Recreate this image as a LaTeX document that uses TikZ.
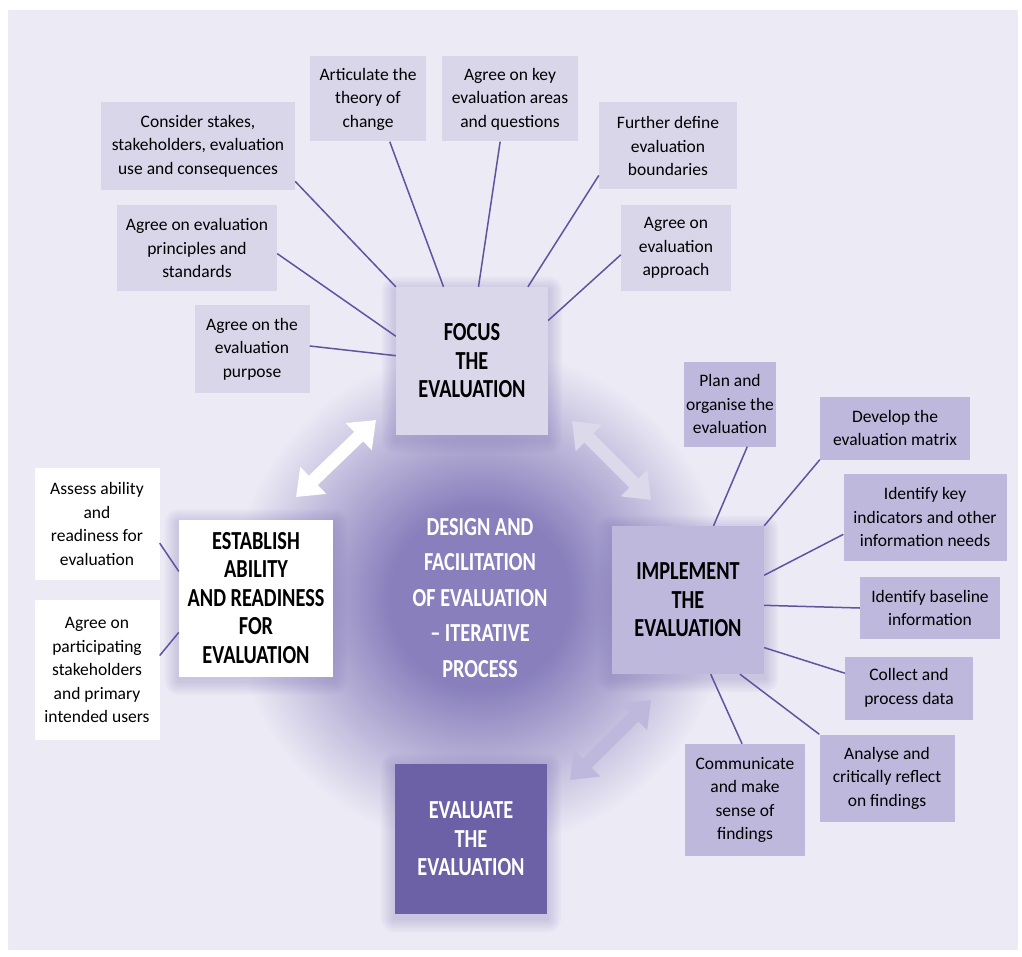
\documentclass[tikz,border=0pt]{standalone}
\usepackage{fontspec}
\setmainfont{Carlito}
\newfontfamily\capsfont[FakeStretch=0.78]{Carlito}
\usetikzlibrary{arrows.meta}
\usetikzlibrary{calc}
\usetikzlibrary{backgrounds}

\definecolor{bgc}{HTML}{ECEAF5}
\definecolor{topc}{HTML}{D9D6E9}
\definecolor{focusc}{HTML}{DAD7EA}
\definecolor{implc}{HTML}{BEB9DC}
\definecolor{evalc}{HTML}{6C61A6}
\definecolor{linec}{HTML}{5E54A0}
\definecolor{glowc}{HTML}{887FBC}
\definecolor{shadc}{HTML}{7A70B4}
\definecolor{pale}{HTML}{DCD9EB}

\pgfdeclareradialshading{glow}{\pgfpoint{0bp}{0bp}}{color(0bp)=(glowc); color(9bp)=(glowc); color(17bp)=(glowc!50!bgc); color(25bp)=(bgc); color(50bp)=(bgc)}

\tikzset{
  idea/.style={align=center, inner sep=0pt, font=\fontsize{17.5}{23.5}\selectfont},
  mainbox/.style={align=center, inner sep=0pt, minimum width=152pt, minimum height=148pt,
    font=\capsfont\bfseries\fontsize{26}{28.5}\selectfont},
  link/.style={draw=linec, line width=1.5pt},
  twoway/.style={line width=13pt, {Triangle[length=24pt,width=36pt]}-{Triangle[length=24pt,width=36pt]}},
}

\begin{document}
\begin{tikzpicture}[x=1pt,y=-1pt]
      \useasboundingbox (0,0) rectangle (1022,957);

      % main steps
      \node[mainbox, fill=focusc] (focus) at (472,361) {FOCUS\\THE\\EVALUATION};
      \node[mainbox, fill=white, minimum width=154pt, minimum height=157pt] (establish) at (256,598) {ESTABLISH\\ABILITY\\AND READINESS\\FOR\\EVALUATION};
      \node[mainbox, fill=implc] (implement) at (688,600) {IMPLEMENT\\THE\\EVALUATION};
      \node[mainbox, fill=evalc, text=white, minimum height=150pt] (evaluate) at (471,839) {EVALUATE\\THE\\EVALUATION};
      \node[align=center, text=white, font=\capsfont\bfseries\fontsize{26}{35.5}\selectfont] (design) at (480,598) {DESIGN AND\\FACILITATION\\OF EVALUATION\\– ITERATIVE\\PROCESS};

      % focus tasks
      \node[idea, fill=topc, minimum width=194pt, minimum height=88pt] (consider) at (198,146) {Consider stakes,\\stakeholders, evaluation\\use and consequences};
      \node[idea, fill=topc, minimum width=116pt, minimum height=85pt] (articulate) at (368,99) {Articulate the\\theory of\\change};
      \node[idea, fill=topc, minimum width=136pt, minimum height=85pt] (keyareas) at (510,99) {Agree on key\\evaluation areas\\and questions};
      \node[idea, fill=topc, minimum width=138pt, minimum height=87pt] (further) at (668,146) {Further define\\evaluation\\boundaries};
      \node[idea, fill=topc, minimum width=160pt, minimum height=86pt] (principles) at (197,248) {Agree on evaluation\\principles and\\standards};
      \node[idea, fill=topc, minimum width=110pt, minimum height=86pt] (approach) at (676,248) {Agree on\\evaluation\\approach};
      \node[idea, fill=topc, minimum width=115pt, minimum height=87pt] (purpose) at (252,349) {Agree on the\\evaluation\\purpose};

      % implement tasks
      \node[idea, fill=implc, minimum width=92pt, minimum height=85pt] (plan) at (730,404) {Plan and\\organise the\\evaluation};
      \node[idea, fill=implc, minimum width=150pt, minimum height=63pt] (matrix) at (895,428) {Develop the\\evaluation matrix};
      \node[idea, fill=implc, minimum width=163pt, minimum height=87pt] (indicators) at (925,517) {Identify key\\indicators and other\\information needs};
      \node[idea, fill=implc, minimum width=140pt, minimum height=62pt] (baseline) at (930,608) {Identify baseline\\information};
      \node[idea, fill=implc, minimum width=128pt, minimum height=63pt] (collect) at (909,688) {Collect and\\process data};
      \node[idea, fill=implc, minimum width=135pt, minimum height=87pt] (analyse) at (887,778) {Analyse and\\critically reflect\\on findings};
      \node[idea, fill=implc, minimum width=120pt, minimum height=112pt] (communicate) at (745,800) {Communicate\\and make\\sense of\\findings};

      % establish tasks
      \node[idea, fill=white, minimum width=125pt, minimum height=112pt] (assess) at (97,524) {Assess ability\\and\\readiness for\\evaluation};
      \node[idea, fill=white, minimum width=125pt, minimum height=140pt] (participants) at (97,670) {Agree on\\participating\\stakeholders\\and primary\\intended users};

      \path (consider.-20) edge[link] (focus.north west);
      \path (articulate.-63) edge[link] (focus.111);
      \path (keyareas.-103) edge[link] (focus.85);
      \path (further.203) edge[link] (focus.53);
      \path (approach.187) edge[link] (focus.28);
      \path (principles.-4) edge[link] (focus.162);
      \path (purpose.3) edge[link] (focus.176);

      \path (plan.-68) edge[link] (implement.71);
      \path (matrix.south west) edge[link] (implement.north east);
      \path (indicators.192) edge[link] (implement.18);
      \path (baseline.west) edge[link] (implement.-4);
      \path (collect.167) edge[link] (implement.-32);
      \path (analyse.north west) edge[link] (implement.-55);
      \path (communicate.93) edge[link] (implement.-73);

      \path (assess.-17) edge[link] (establish.161);
      \path (participants.13) edge[link] (establish.204);

      % cycle arrows
      \coordinate (fe1) at (296,497);
      \coordinate (fe2) at (376,420);
      \coordinate (fi1) at (572,421);
      \coordinate (fi2) at (651,500);
      \coordinate (ie1) at (651,700);
      \coordinate (ie2) at (570,780);
      \draw[twoway, white] (fe1) -- (fe2);
      \draw[twoway, pale] (fi1) -- (fi2);
      \draw[twoway, implc] (ie1) -- (ie2);

      \begin{pgfonlayer}{background}
        \fill[bgc] (8,10) rectangle (1018,950);
        \shade[shading=glow] (480,598) circle (250pt);
        \foreach \n in {focus,establish,implement,evaluate}{
          \foreach \r in {2,4,...,14}
            \fill[shadc, opacity=0.045, rounded corners=\r pt]
              ($(\n.south west)+(-\r,\r+4)$) rectangle ($(\n.north east)+(\r,-\r+4)$);
        }
      \end{pgfonlayer}
\end{tikzpicture}
\end{document}
